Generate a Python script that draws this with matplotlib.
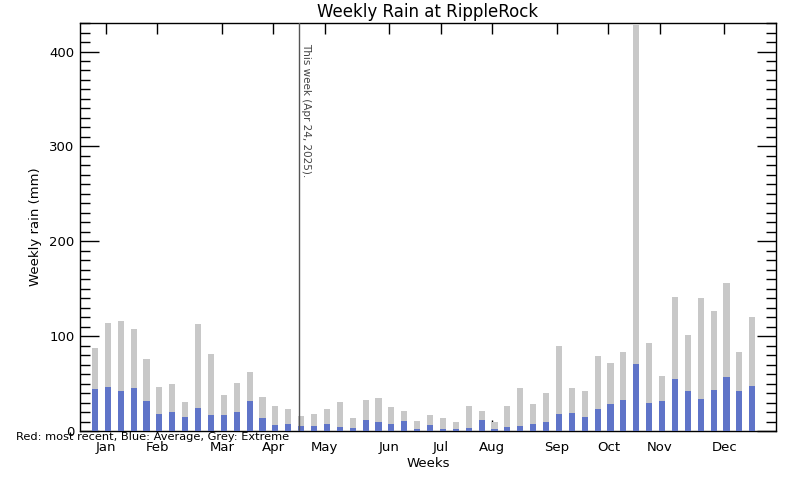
import matplotlib
matplotlib.use("Agg")
import matplotlib.pyplot as plt
import numpy as np
from matplotlib.ticker import MultipleLocator, FixedLocator

plt.rcParams["xtick.direction"] = "in"
plt.rcParams["ytick.direction"] = "in"

weeks = list(range(1, 53))
extreme = [87.5, 113.8, 115.9, 107.5, 75.9, 46.4, 49.5, 30.6, 112.7, 81.1,
           37.9, 50.6, 62.2, 35.8, 26.3, 23.2, 15.8, 17.9, 23.2, 30.6,
           13.7, 32.7, 34.8, 25.3, 21.1, 10.5, 16.9, 13.7, 9.5, 26.3,
           21.1, 9.5, 26.3, 45.3, 28.5, 40.0, 89.6, 45.3, 42.1, 79.0,
           71.7, 83.2, 428.0, 92.7, 58.0, 141.2, 101.2, 140.1, 126.4, 156.0,
           83.2, 120.1]
average = [44.3, 46.4, 42.1, 45.3, 31.6, 17.9, 20.0, 14.8, 24.2, 16.9,
           16.9, 20.0, 31.6, 13.7, 6.3, 7.4, 5.3, 5.3, 7.4, 4.2,
           3.2, 11.6, 9.5, 7.4, 10.5, 2.1, 6.3, 2.1, 2.1, 3.2,
           11.6, 2.1, 4.2, 5.3, 7.4, 9.5, 17.9, 19.0, 14.8, 23.2,
           28.5, 32.7, 70.6, 29.5, 31.6, 54.8, 42.1, 33.7, 43.2, 56.9,
           42.1, 47.4]
month_labels = ["Jan", "Feb", "Mar", "Apr", "May", "Jun", "Jul", "Aug",
                "Sep", "Oct", "Nov", "Dec"]
month_weeks = [2, 6, 11, 15, 19, 24, 28, 32, 37, 41, 45, 50]
this_week = 17
this_week_label = "This week (Apr 24, 2025)."

grey = "#c8c8c8"
blue = "#5f74c8"

fig = plt.figure(figsize=(8, 4.8), dpi=100)
ax = fig.add_axes([0.1, 0.102, 0.87, 0.85])

x = np.array(weeks) + 0.16
ax.bar(x, extreme, width=0.47, color=grey, linewidth=0, zorder=2)
ax.bar(x, average, width=0.47, color=blue, linewidth=0, zorder=3)

ax.axvline(this_week, color="#555555", linewidth=1, zorder=4)
ax.text(this_week + 0.15, 409, this_week_label, rotation=270, ha="left", va="bottom",
        fontsize=7.5, color="#444444", rotation_mode="anchor")

ax.set_xlim(0, 54)
ax.set_ylim(0, 430)

ax.xaxis.set_major_locator(FixedLocator(month_weeks))
ax.set_xticklabels(month_labels)
ax.yaxis.set_major_locator(MultipleLocator(100))
ax.yaxis.set_minor_locator(MultipleLocator(10))

ax.tick_params(axis="x", which="major", direction="in", length=8, width=1,
               top=True, bottom=True, labelsize=9.5, pad=7)
ax.tick_params(axis="x", which="minor", bottom=False, top=False)
ax.tick_params(axis="y", which="major", direction="in", length=14, width=1,
               left=True, right=True, labelsize=9.5, pad=4)
ax.tick_params(axis="y", which="minor", direction="in", length=7, width=1,
               left=True, right=True)

for s in ax.spines.values():
    s.set_linewidth(1)

ax.set_title("Weekly Rain at RippleRock", fontsize=12, pad=4)
ax.set_xlabel("Weeks", fontsize=9.5, labelpad=2)
ax.set_ylabel("Weekly rain (mm)", fontsize=9.5, labelpad=5)

fig.text(0.02, 0.09, "Red: most recent, Blue: Average, Grey: Extreme",
         fontsize=8.2, ha="left", va="center")

fig.savefig("out.png", dpi=100)
